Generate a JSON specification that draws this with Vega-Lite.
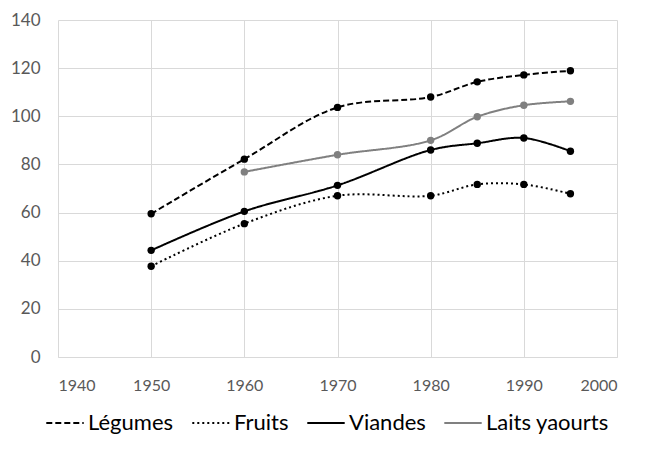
{
  "$schema": "https://vega.github.io/schema/vega-lite/v6.json",
  "width": 559,
  "height": 337,
  "autosize": {"type": "none"},
  "padding": {"left": 58, "top": 20, "right": 37, "bottom": 96},
  "background": "white",
  "data": {
    "values": [
      {"annee": 1950, "serie": "Légumes", "valeur": 59.5},
      {"annee": 1960, "serie": "Légumes", "valeur": 82.2},
      {"annee": 1970, "serie": "Légumes", "valeur": 103.7},
      {"annee": 1980, "serie": "Légumes", "valeur": 108},
      {"annee": 1985, "serie": "Légumes", "valeur": 114.3},
      {"annee": 1990, "serie": "Légumes", "valeur": 117.2},
      {"annee": 1995, "serie": "Légumes", "valeur": 118.9},
      {"annee": 1950, "serie": "Fruits", "valeur": 37.7},
      {"annee": 1960, "serie": "Fruits", "valeur": 55.4},
      {"annee": 1970, "serie": "Fruits", "valeur": 67},
      {"annee": 1980, "serie": "Fruits", "valeur": 67},
      {"annee": 1985, "serie": "Fruits", "valeur": 71.7},
      {"annee": 1990, "serie": "Fruits", "valeur": 71.7},
      {"annee": 1995, "serie": "Fruits", "valeur": 67.8},
      {"annee": 1950, "serie": "Viandes", "valeur": 44.3},
      {"annee": 1960, "serie": "Viandes", "valeur": 60.5},
      {"annee": 1970, "serie": "Viandes", "valeur": 71.3},
      {"annee": 1980, "serie": "Viandes", "valeur": 86},
      {"annee": 1985, "serie": "Viandes", "valeur": 88.8},
      {"annee": 1990, "serie": "Viandes", "valeur": 91},
      {"annee": 1995, "serie": "Viandes", "valeur": 85.5},
      {"annee": 1960, "serie": "Laits yaourts", "valeur": 76.9},
      {"annee": 1970, "serie": "Laits yaourts", "valeur": 84},
      {"annee": 1980, "serie": "Laits yaourts", "valeur": 90},
      {"annee": 1985, "serie": "Laits yaourts", "valeur": 99.8},
      {"annee": 1990, "serie": "Laits yaourts", "valeur": 104.6},
      {"annee": 1995, "serie": "Laits yaourts", "valeur": 106.2}
    ]
  },
  "mark": {
    "type": "line",
    "interpolate": "catmull-rom",
    "strokeWidth": 2,
    "point": {"filled": true, "size": 55, "opacity": 1}
  },
  "encoding": {
    "x": {
      "field": "annee",
      "type": "quantitative",
      "scale": {"domain": [1940, 2000], "nice": false, "zero": false},
      "axis": {
        "title": null,
        "values": [1940, 1950, 1960, 1970, 1980, 1990, 2000],
        "format": "d",
        "labelFontSize": 16,
        "labelColor": "#595959",
        "labelPadding": 20,
        "ticks": false,
        "domainColor": "#d9d9d9",
        "gridColor": "#d9d9d9",
        "labelFont": "Lato"
      }
    },
    "y": {
      "field": "valeur",
      "type": "quantitative",
      "scale": {"domain": [0, 140], "nice": false},
      "axis": {
        "title": null,
        "values": [0, 20, 40, 60, 80, 100, 120, 140],
        "labelFontSize": 17,
        "labelColor": "#595959",
        "labelPadding": 18,
        "ticks": false,
        "domain": false,
        "gridColor": "#d9d9d9",
        "labelFont": "Lato"
      }
    },
    "color": {
      "field": "serie",
      "type": "nominal",
      "sort": ["Légumes", "Fruits", "Viandes", "Laits yaourts"],
      "scale": {"domain": ["Légumes", "Fruits", "Viandes", "Laits yaourts"], "range": ["#000000", "#000000", "#000000", "#808080"]},
      "legend": {
        "title": null,
        "orient": "none",
        "legendX": -13,
        "legendY": 383,
        "direction": "horizontal",
        "columns": 4,
        "symbolType": "stroke",
        "symbolSize": 1400,
        "symbolStrokeWidth": 2,
        "labelFontSize": 22,
        "labelFont": "Lato",
        "labelColor": "#000000",
        "columnPadding": 14,
        "labelOffset": 3
      }
    },
    "strokeDash": {
      "field": "serie",
      "type": "nominal",
      "sort": ["Légumes", "Fruits", "Viandes", "Laits yaourts"],
      "scale": {"domain": ["Légumes", "Fruits", "Viandes", "Laits yaourts"], "range": [[6, 3], [2, 3], [1, 0], [1, 0]]},
      "legend": {
        "title": null,
        "orient": "none",
        "legendX": -13,
        "legendY": 383,
        "direction": "horizontal",
        "columns": 4,
        "symbolType": "stroke",
        "symbolSize": 1400,
        "symbolStrokeWidth": 2,
        "labelFontSize": 22,
        "labelFont": "Lato",
        "labelColor": "#000000",
        "columnPadding": 14,
        "labelOffset": 3
      }
    }
  },
  "config": {
    "view": {"stroke": null}
  }
}
